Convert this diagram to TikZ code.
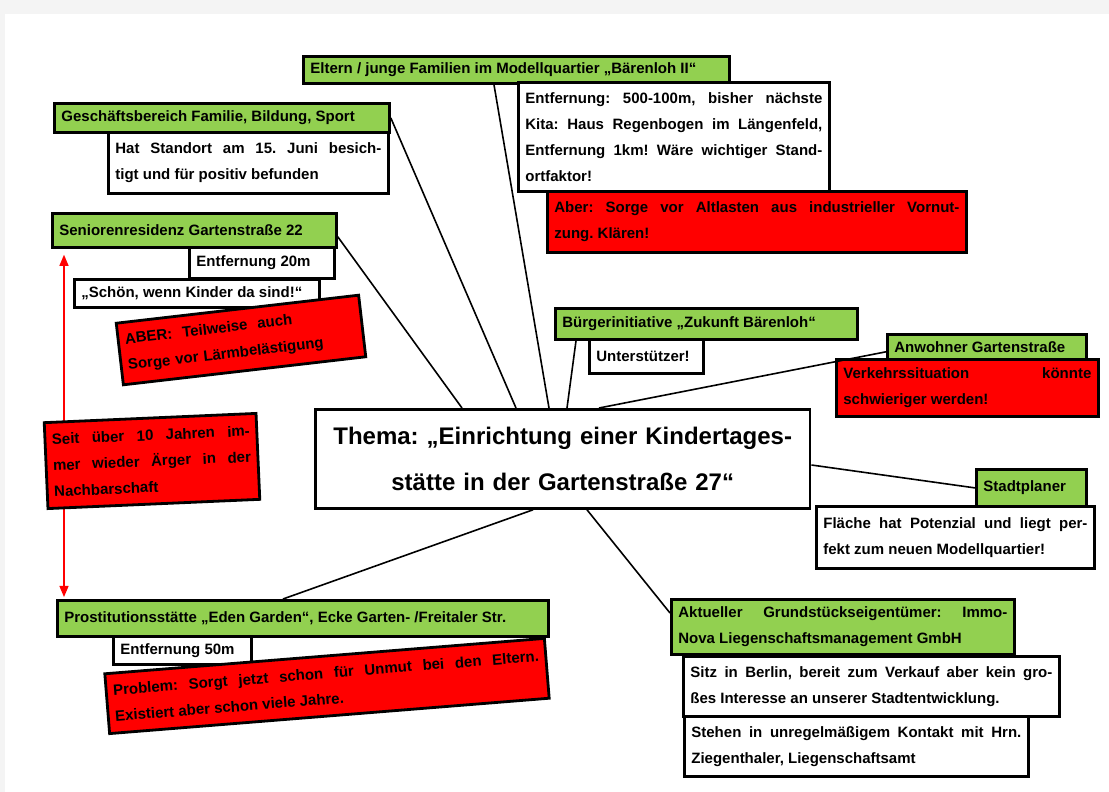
\documentclass[tikz,border=0pt]{standalone}
\usepackage{fontspec}
\setmainfont{Liberation Sans}
\usetikzlibrary{calc,arrows}
\frenchspacing
\definecolor{pagegray}{HTML}{F4F4F4}
\definecolor{kitagreen}{HTML}{92D050}
\definecolor{alarmred}{HTML}{FF0000}
\tikzset{
  box/.style={draw, line width=2.8pt, inner xsep=7pt, inner ysep=3pt,
    font=\bfseries\fontsize{15}{26}\selectfont, align=justify},
  head/.style={box, fill=kitagreen, anchor=north west},
  note/.style={box, fill=white, anchor=north west},
  alarm/.style={box, fill=alarmred},
  link/.style={line width=1.6pt}
}

\begin{document}
\begin{tikzpicture}[x=1pt, y=-1pt, >=triangle 45]
\useasboundingbox (0,0) rectangle (1109,792);
\fill[pagegray] (0,0) rectangle (1109,792);
\fill[white] (5,14) rectangle (1109,792);

\node[head, text width=412pt, minimum height=27pt] (eltern) at (302,55) {Eltern / junge Familien im Modellquartier „Bärenloh II“};
\node[note, text width=297pt, minimum height=109pt] (elternNote) at (517,81) {Entfernung: 500-100m, bisher nächste\linebreak Kita: Haus Regenbogen im Längenfeld,\linebreak Entfernung 1km! Wäre wichtiger Stand-\linebreak ortfaktor!};
\node[alarm, anchor=north west, text width=405pt, minimum height=61pt] (elternRisk) at (546,190) {Aber: Sorge vor Altlasten aus industrieller Vornut-\linebreak zung. Klären!};

\node[head, text width=321pt, minimum height=29pt] (geschaeft) at (53,102) {Geschäftsbereich Familie, Bildung, Sport};
\node[note, text width=266pt, minimum height=61pt] (geschaeftNote) at (107,131) {Hat Standort am 15. Juni besich-\linebreak tigt und für positiv befunden};

\node[head, text width=270pt, minimum height=34pt] (senioren) at (51,212) {Seniorenresidenz Gartenstraße 22};
\node[note, text width=131pt, minimum height=31pt] (senDist) at (188,246) {Entfernung 20m};
\node[note, text width=231pt, minimum height=28pt] (senQuote) at (73,278) {„Schön, wenn Kinder da sind!“};
\node[alarm, rotate=6.6, align=left, text width=230pt, minimum height=62pt] (senRisk) at (241,340) {ABER:\ \ Teilweise\ \ auch\\Sorge vor Lärmbelästigung};

\node[head, text width=477pt, minimum height=36pt] (eden) at (56,599) {Prostitutionsstätte „Eden Garden“, Ecke Garten- /Freitaler Str.};
\node[note, text width=124pt, minimum height=28pt] (edenDist) at (112,635) {Entfernung 50m};
\node[alarm, rotate=4.6, text width=427pt, minimum height=60pt] (edenRisk) at (327,686) {Problem: Sorgt jetzt schon für Unmut bei den Eltern.\linebreak Existiert aber schon viele Jahre.};

\draw[<->, alarmred, line width=1.6pt] ($(senioren.south west)+(13,6)$) -- ($(eden.north west)+(8,-2)$);
\node[alarm, rotate=2.5, text width=198pt, minimum height=86pt] (nachbar) at (152,461) {Seit über 10 Jahren im-\linebreak mer wieder Ärger in der\linebreak Nachbarschaft};

\node[head, text width=288pt, minimum height=31pt] (buerger) at (554,307) {Bürgerinitiative „Zukunft Bärenloh“};
\node[note, text width=100pt, minimum height=34pt] (buergerNote) at (588,338) {Unterstützer!};

\node[head, text width=185pt, minimum height=25pt] (anwohner) at (886,333) {Anwohner Gartenstraße};
\node[alarm, anchor=north west, text width=248pt, minimum height=57pt] (anwohnerRisk) at (835,358) {Verkehrssituation könnte\linebreak schwieriger werden!};

\node[draw, line width=2.8pt, fill=white, anchor=north west, text width=488pt, minimum height=99pt, align=center, font=\bfseries\fontsize{24}{46}\selectfont] (thema) at (314,408) {Thema: „Einrichtung einer Kindertages-\\stätte in der Gartenstraße 27“};

\node[head, text width=96pt, minimum height=37pt] (planer) at (975,468) {Stadtplaner};
\node[note, text width=264pt, minimum height=62pt] (planerNote) at (815,505) {Fläche hat Potenzial und liegt per-\linebreak fekt zum neuen Modellquartier!};

\node[head, text width=329pt, minimum height=55pt] (owner) at (670,598) {Aktueller Grundstückseigentümer: Immo-\linebreak Nova Liegenschaftsmanagement GmbH};
\node[note, text width=362pt, minimum height=60pt] (ownerNote) at (682,655) {Sitz in Berlin, bereit zum Verkauf aber kein gro-\linebreak ßes Interesse an unserer Stadtentwicklung.};
\node[note, text width=330pt, minimum height=60pt] (ownerContact) at (683,715) {Stehen in unregelmäßigem Kontakt mit Hrn.\linebreak Ziegenthaler, Liegenschaftsamt};

\draw[link] (geschaeft.east) -- ($(thema.north west)+(202,0)$);
\draw[link] ($(senioren.south east)+(0,-12)$) -- ($(thema.north west)+(148,0)$);
\draw[link] ($(eltern.south west)+(192,0)$) -- ($(thema.north west)+(235,0)$);
\draw[link] ($(buerger.south west)+(22,0)$) -- ($(thema.north west)+(253,0)$);
\draw[link] ($(anwohner.south west)+(0,-9)$) -- ($(thema.north west)+(285,0)$);
\draw[link] ($(thema.north east)+(0,57)$) -- (planer.west);
\draw[link] ($(thema.south west)+(219,0)$) -- ($(eden.north west)+(227,0)$);
\draw[link] ($(thema.south west)+(273,0)$) -- ($(owner.north west)+(0,15)$);
\end{tikzpicture}
\end{document}
